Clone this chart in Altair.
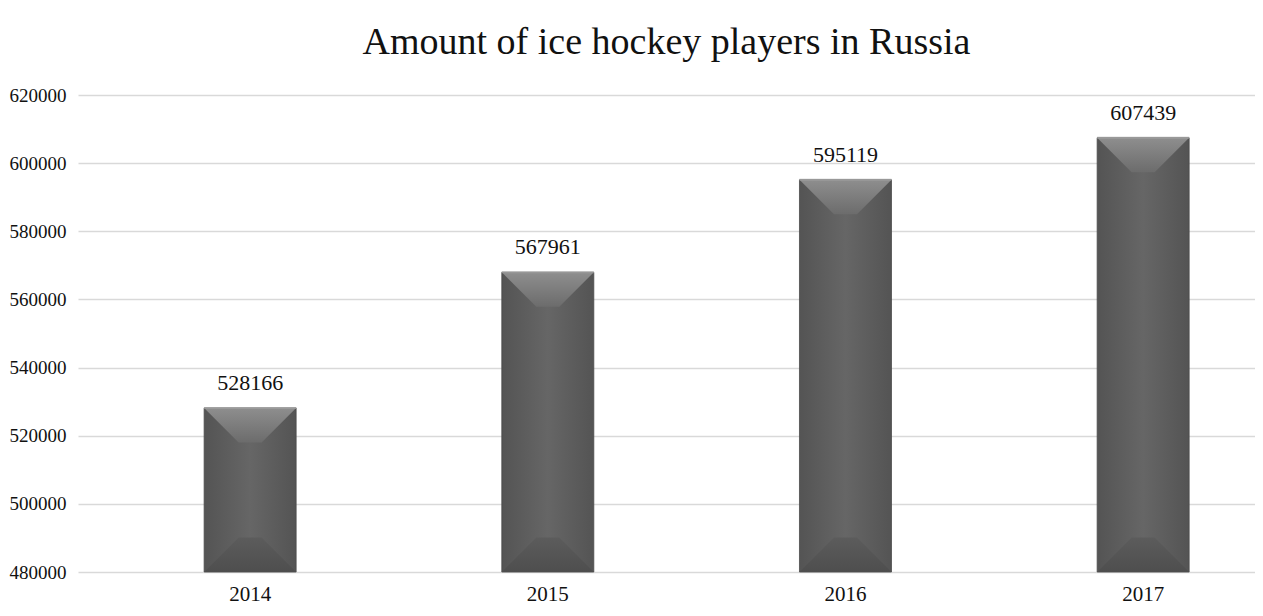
import altair as alt
import pandas as pd

years = ["2014", "2015", "2016", "2017"]
players = [528166, 567961, 595119, 607439]
y_ticks = [480000, 500000, 520000, 540000, 560000, 580000, 600000, 620000]
title_text = "Amount of ice hockey players in Russia"

df = pd.DataFrame({"year": years, "players": players, "base": [480000] * len(years)})

FONT = "Liberation Serif"

x_enc = alt.X(
    "year:N",
    sort=years,
    title=None,
    scale=alt.Scale(paddingInner=0.691, paddingOuter=0.3225, align=0.657),
    axis=alt.Axis(labelAngle=0, domain=False, ticks=False, grid=False,
                  labelFont=FONT, labelFontSize=21, labelColor="#111111",
                  labelPadding=11),
)
y_scale = alt.Scale(domain=[480000, 620000], nice=False, zero=False)
y_enc = alt.Y(
    "players:Q",
    scale=y_scale,
    title=None,
    axis=alt.Axis(values=y_ticks, domain=False, ticks=False, grid=True,
                  gridColor="#d9d9d9", gridWidth=1.5, labelFont=FONT,
                  labelFontSize=19, labelColor="#111111", labelPadding=12,
                  format="d"),
)

base = alt.Chart(df)

bars = base.mark_bar(
    size=92,
    color=alt.Gradient(
        gradient="linear", x1=0, x2=1, y1=0, y2=0,
        stops=[alt.GradientStop(color="#545454", offset=0),
               alt.GradientStop(color="#666666", offset=0.5),
               alt.GradientStop(color="#545454", offset=1)],
    ),
    stroke="#4a4a4a", strokeWidth=0.8,
).encode(x=x_enc, y=y_enc, y2="base:Q")

top_bevel = base.mark_point(
    shape="M-1,0L1,0L0.25,0.75L-0.25,0.75Z",
    size=8464, filled=True, opacity=1, strokeWidth=0,
    color=alt.Gradient(
        gradient="linear", x1=0, x2=0, y1=0, y2=1,
        stops=[alt.GradientStop(color="#8e8e8e", offset=0),
               alt.GradientStop(color="#6c6c6c", offset=1)],
    ),
).encode(x=alt.X("year:N", sort=years), y=alt.Y("players:Q", scale=y_scale))

bottom_bevel = base.mark_point(
    shape="M-1,0L1,0L0.25,-0.75L-0.25,-0.75Z",
    size=8464, filled=True, opacity=1, strokeWidth=0,
    color=alt.Gradient(
        gradient="linear", x1=0, x2=0, y1=1, y2=0,
        stops=[alt.GradientStop(color="#4e4e4e", offset=0),
               alt.GradientStop(color="#5c5c5c", offset=1)],
    ),
).encode(x=alt.X("year:N", sort=years), y=alt.Y("base:Q", scale=y_scale))

top_edge = base.mark_tick(size=92, thickness=2, color="#a0a0a0").encode(
    x=alt.X("year:N", sort=years), y=alt.Y("players:Q", scale=y_scale)
)

labels = base.mark_text(
    baseline="alphabetic", dy=-18, font=FONT, fontSize=22, color="#111111"
).encode(x=alt.X("year:N", sort=years), y=alt.Y("players:Q", scale=y_scale),
         text=alt.Text("players:Q", format="d"))

chart = alt.layer(bars, top_bevel, bottom_bevel, top_edge, labels).properties(
    width=1177,
    height=477,
    autosize=alt.AutoSizeParams(type="none"),
    padding={"left": 70, "top": 87, "right": 0, "bottom": 36},
    title=alt.TitleParams(title_text, font=FONT, fontSize=38, fontWeight="normal",
                          color="#111111", anchor="middle", offset=24),
).configure_view(stroke=None)

chart.save("out.html", embed_options={"renderer": "svg", "actions": False})
